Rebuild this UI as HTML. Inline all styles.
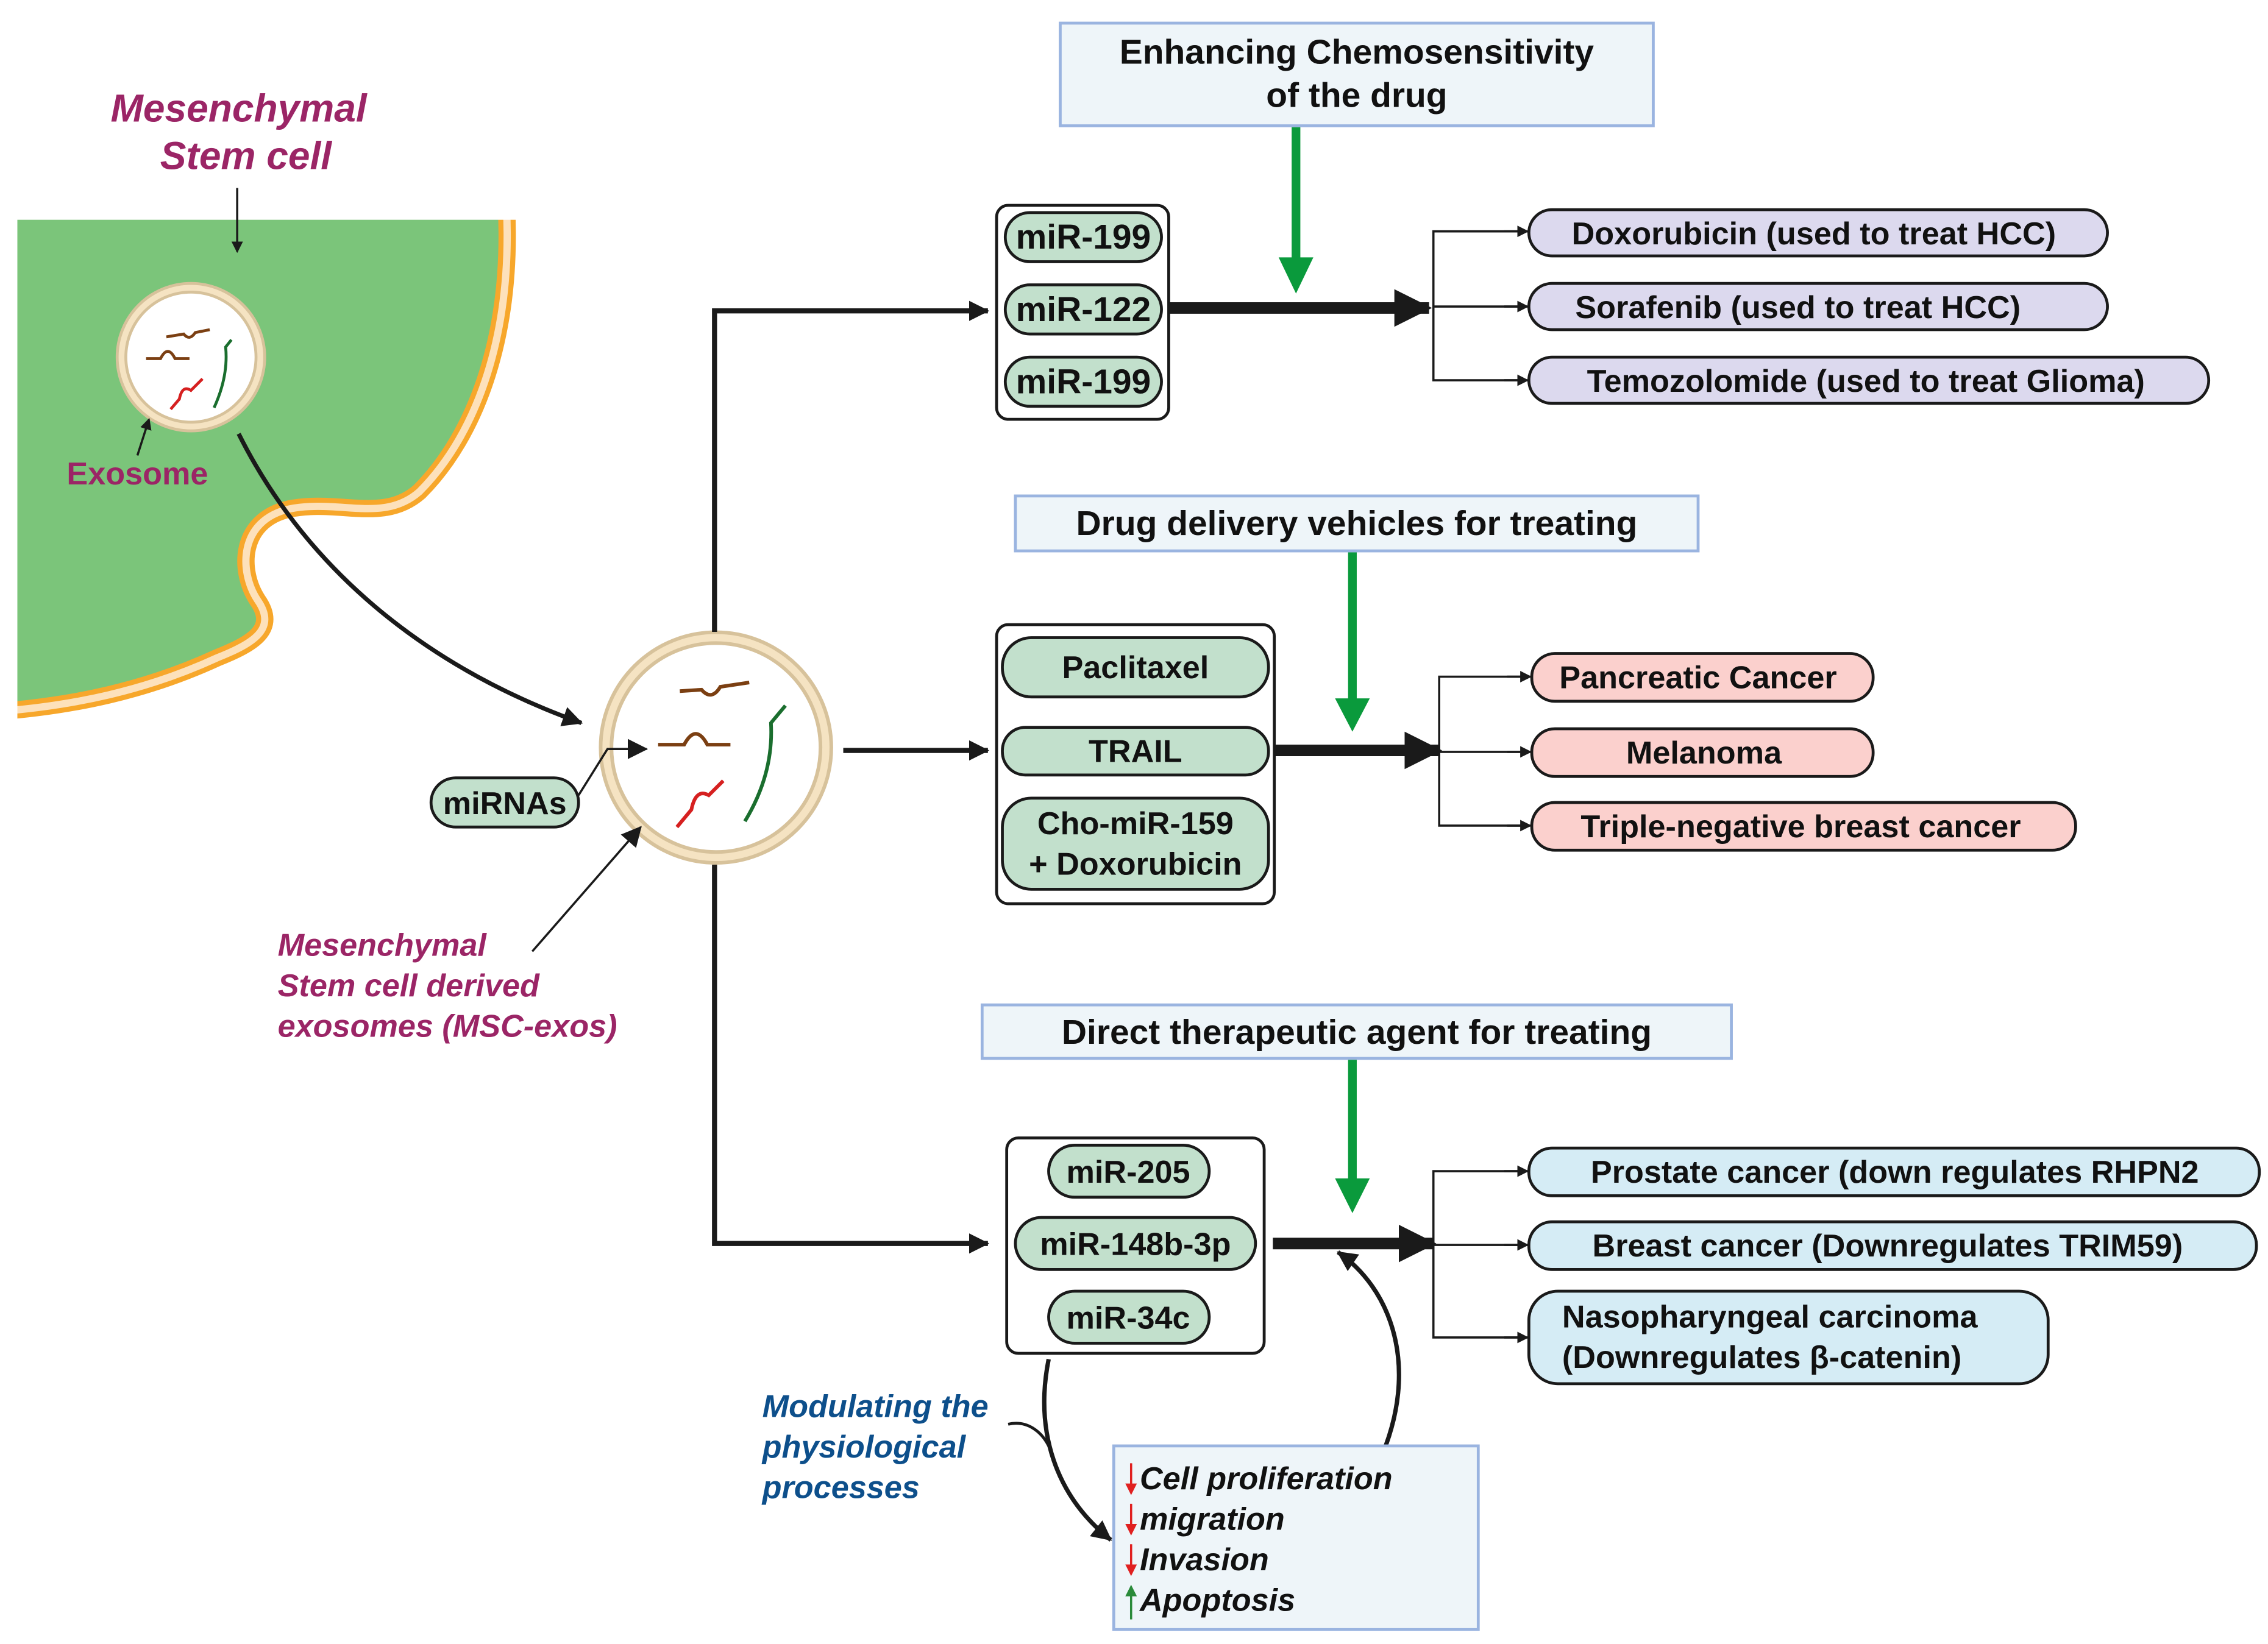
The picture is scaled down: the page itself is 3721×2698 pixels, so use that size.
<!DOCTYPE html>
<html><head><meta charset="utf-8"><style>
html,body{margin:0;padding:0;background:#fff;}
svg{display:block;}
text{font-family:"Liberation Sans",sans-serif;}
.b{font-weight:bold;font-size:22px;fill:#111;}
.h{font-weight:bold;font-size:24px;fill:#111;}
.pill{stroke:#1a1a1a;stroke-width:2;}
.ln{stroke:#1a1a1a;fill:none;}
</style></head><body>
<svg width="3721" height="2698" viewBox="0 0 1568 1137" preserveAspectRatio="none" xmlns="http://www.w3.org/2000/svg">
<defs>
<marker id="ah" markerWidth="8" markerHeight="8" refX="7" refY="4" orient="auto" markerUnits="userSpaceOnUse"><path d="M0,0L8,4L0,8z" fill="#1a1a1a"/></marker>
<marker id="ahb" markerWidth="14" markerHeight="14" refX="13" refY="7" orient="auto" markerUnits="userSpaceOnUse"><path d="M0,0L14,7L0,14z" fill="#1a1a1a"/></marker>
<marker id="ahg" markerWidth="26" markerHeight="26" refX="24" refY="13" orient="auto" markerUnits="userSpaceOnUse"><path d="M0,0L26,13L0,26z" fill="#1a1a1a"/></marker>
</defs>

<!-- cell -->
<path d="M0,140 L350,140 C355,230 330,300 290,340 C265,362 235,345 200,352 C165,360 165,395 178,415 C192,435 175,445 150,455 C100,478 50,488 0,492 Z" fill="#7bc57a" stroke="#f7a72b" stroke-width="12"/>
<path d="M350,140 C355,230 330,300 290,340 C265,362 235,345 200,352 C165,360 165,395 178,415 C192,435 175,445 150,455 C100,478 50,488 0,492" fill="none" stroke="#fde1bb" stroke-width="5"/>
<rect x="0" y="130" width="12" height="380" fill="#fff"/>
<rect x="0" y="120" width="370" height="32" fill="#fff"/>

<text x="165" y="84" text-anchor="middle" font-style="italic" font-weight="bold" font-size="27" fill="#9b2566">Mesenchymal</text>
<text x="170" y="117" text-anchor="middle" font-style="italic" font-weight="bold" font-size="27" fill="#9b2566">Stem cell</text>
<line x1="164" y1="130" x2="164" y2="174" class="ln" stroke-width="1.5" marker-end="url(#ah)"/>

<!-- small exosome -->
<circle cx="132" cy="247" r="48" fill="#fff" stroke="#d7c29b" stroke-width="8"/>
<circle cx="132" cy="247" r="48" fill="none" stroke="#f5e3c2" stroke-width="4"/>
<g stroke-width="2" fill="none">
<path d="M115,233 L127,231 Q131,236 135,230 L145,228" stroke="#7b3f12"/>
<path d="M101,248 L111,248 Q116,238 121,248 L131,248" stroke="#7b3f12"/>
<path d="M118,283 L124,276 Q126,266 132,270 L140,262" stroke="#d62020"/>
<path d="M148,282 Q158,260 156,240 L160,235" stroke="#1a6e2e"/>
</g>
<text x="95" y="335" text-anchor="middle" font-weight="bold" font-size="22" fill="#9b2566">Exosome</text>
<line x1="95" y1="315" x2="103" y2="290" class="ln" stroke-width="1.5" marker-end="url(#ah)"/>

<path d="M165,300 C210,390 290,460 402,500" class="ln" stroke-width="3" marker-end="url(#ahb)"/>

<!-- big exosome -->
<circle cx="495" cy="517" r="76" fill="#fff" stroke="#d7c29b" stroke-width="10"/>
<circle cx="495" cy="517" r="76" fill="none" stroke="#f5e3c2" stroke-width="5"/>
<g stroke-width="2.5" fill="none">
<path d="M470,478 L485,477 Q492,485 498,475 L518,472" stroke="#7b3f12"/>
<path d="M455,515 L473,515 Q481,500 489,515 L505,515" stroke="#7b3f12"/>
<path d="M468,572 L478,560 Q481,545 490,550 L500,540" stroke="#d62020"/>
<path d="M515,568 Q535,535 533,500 L543,488" stroke="#1a6e2e"/>
</g>
<rect x="298" y="538" width="102" height="34" rx="17" fill="#c2e0cc" class="pill"/>
<text x="349" y="563" text-anchor="middle" class="b">miRNAs</text>
<path d="M400,550 L420,518 L447,518" class="ln" stroke-width="1.5" marker-end="url(#ahb)"/>
<text x="192" y="661" font-style="italic" font-weight="bold" font-size="22" fill="#9b2566">Mesenchymal</text>
<text x="192" y="689" font-style="italic" font-weight="bold" font-size="22" fill="#9b2566">Stem cell derived</text>
<text x="192" y="717" font-style="italic" font-weight="bold" font-size="22" fill="#9b2566">exosomes (MSC-exos)</text>
<line x1="368" y1="658" x2="443" y2="572" class="ln" stroke-width="1.5" marker-end="url(#ahb)"/>

<!-- trunk -->
<path d="M494,437 L494,215 L683,215" class="ln" stroke-width="3.5" marker-end="url(#ahb)"/>
<path d="M494,598 L494,860 L683,860" class="ln" stroke-width="3.5" marker-end="url(#ahb)"/>
<line x1="583" y1="519" x2="683" y2="519" class="ln" stroke-width="3.5" marker-end="url(#ahb)"/>

<!-- section 1 -->
<rect x="733" y="16" width="410" height="71" fill="#eef5f9" stroke="#9ab4e0" stroke-width="2"/>
<text x="938" y="44" text-anchor="middle" class="h">Enhancing Chemosensitivity</text>
<text x="938" y="74" text-anchor="middle" class="h">of the drug</text>
<line x1="896" y1="88" x2="896" y2="180" stroke="#0a9a3c" stroke-width="6"/>
<path d="M884,178 L908,178 L896,203 Z" fill="#0a9a3c"/>
<rect x="689" y="142" width="119" height="148" rx="8" fill="#fff" class="pill"/>
<rect x="695" y="147" width="108" height="34" rx="17" fill="#c2e0cc" class="pill"/><text x="749" y="172" text-anchor="middle" class="h">miR-199</text>
<rect x="695" y="197" width="108" height="34" rx="17" fill="#c2e0cc" class="pill"/><text x="749" y="222" text-anchor="middle" class="h">miR-122</text>
<rect x="695" y="247" width="108" height="34" rx="17" fill="#c2e0cc" class="pill"/><text x="749" y="272" text-anchor="middle" class="h">miR-199</text>
<line x1="808" y1="213" x2="988" y2="213" class="ln" stroke-width="8" marker-end="url(#ahg)"/>
<path d="M1055,160 L991,160 L991,263 L1055,263 M991,212 L1055,212" class="ln" stroke-width="1.5"/>
<line x1="1040" y1="160" x2="1056" y2="160" class="ln" stroke-width="1.5" marker-end="url(#ah)"/>
<line x1="1040" y1="212" x2="1056" y2="212" class="ln" stroke-width="1.5" marker-end="url(#ah)"/>
<line x1="1040" y1="263" x2="1056" y2="263" class="ln" stroke-width="1.5" marker-end="url(#ah)"/>
<rect x="1057" y="145" width="400" height="32" rx="16" fill="#dcd9ee" class="pill"/><text x="1254" y="169" text-anchor="middle" class="b">Doxorubicin (used to treat HCC)</text>
<rect x="1057" y="196" width="400" height="32" rx="16" fill="#dcd9ee" class="pill"/><text x="1243" y="220" text-anchor="middle" class="b">Sorafenib (used to treat HCC)</text>
<rect x="1057" y="247" width="470" height="32" rx="16" fill="#dcd9ee" class="pill"/><text x="1290" y="271" text-anchor="middle" class="b">Temozolomide (used to treat Glioma)</text>

<!-- section 2 -->
<rect x="702" y="343" width="472" height="38" fill="#eef5f9" stroke="#9ab4e0" stroke-width="2"/>
<text x="938" y="370" text-anchor="middle" class="h">Drug delivery vehicles for treating</text>
<line x1="935" y1="382" x2="935" y2="485" stroke="#0a9a3c" stroke-width="6"/>
<path d="M923,483 L947,483 L935,506 Z" fill="#0a9a3c"/>
<rect x="689" y="432" width="192" height="193" rx="8" fill="#fff" class="pill"/>
<rect x="693" y="441" width="184" height="41" rx="20" fill="#c2e0cc" class="pill"/><text x="785" y="469" text-anchor="middle" class="b">Paclitaxel</text>
<rect x="693" y="503" width="184" height="33" rx="16" fill="#c2e0cc" class="pill"/><text x="785" y="527" text-anchor="middle" class="b">TRAIL</text>
<rect x="693" y="552" width="184" height="63" rx="20" fill="#c2e0cc" class="pill"/><text x="785" y="577" text-anchor="middle" class="b">Cho-miR-159</text><text x="785" y="605" text-anchor="middle" class="b">+ Doxorubicin</text>
<line x1="881" y1="519" x2="995" y2="519" class="ln" stroke-width="8" marker-end="url(#ahg)"/>
<path d="M1057,468 L995,468 L995,571 L1057,571 M995,520 L1057,520" class="ln" stroke-width="1.5"/>
<line x1="1042" y1="468" x2="1058" y2="468" class="ln" stroke-width="1.5" marker-end="url(#ah)"/>
<line x1="1042" y1="520" x2="1058" y2="520" class="ln" stroke-width="1.5" marker-end="url(#ah)"/>
<line x1="1042" y1="571" x2="1058" y2="571" class="ln" stroke-width="1.5" marker-end="url(#ah)"/>
<rect x="1059" y="452" width="236" height="33" rx="16" fill="#fbd0cd" class="pill"/><text x="1174" y="476" text-anchor="middle" class="b">Pancreatic Cancer</text>
<rect x="1059" y="504" width="236" height="33" rx="16" fill="#fbd0cd" class="pill"/><text x="1178" y="528" text-anchor="middle" class="b">Melanoma</text>
<rect x="1059" y="555" width="376" height="33" rx="16" fill="#fbd0cd" class="pill"/><text x="1245" y="579" text-anchor="middle" class="b">Triple-negative breast cancer</text>

<!-- section 3 -->
<rect x="679" y="695" width="518" height="37" fill="#eef5f9" stroke="#9ab4e0" stroke-width="2"/>
<text x="938" y="722" text-anchor="middle" class="h">Direct therapeutic agent for treating</text>
<line x1="935" y1="733" x2="935" y2="818" stroke="#0a9a3c" stroke-width="6"/>
<path d="M923,815 L947,815 L935,839 Z" fill="#0a9a3c"/>
<rect x="696" y="787" width="178" height="149" rx="8" fill="#fff" class="pill"/>
<rect x="725" y="792" width="111" height="36" rx="18" fill="#c2e0cc" class="pill"/><text x="780" y="818" text-anchor="middle" class="b">miR-205</text>
<rect x="702" y="842" width="166" height="36" rx="18" fill="#c2e0cc" class="pill"/><text x="785" y="868" text-anchor="middle" class="b">miR-148b-3p</text>
<rect x="725" y="893" width="111" height="36" rx="18" fill="#c2e0cc" class="pill"/><text x="780" y="919" text-anchor="middle" class="b">miR-34c</text>
<line x1="880" y1="860" x2="991" y2="860" class="ln" stroke-width="8" marker-end="url(#ahg)"/>
<path d="M1055,810 L991,810 L991,925 L1055,925 M991,861 L1055,861" class="ln" stroke-width="1.5"/>
<line x1="1040" y1="810" x2="1056" y2="810" class="ln" stroke-width="1.5" marker-end="url(#ah)"/>
<line x1="1040" y1="861" x2="1056" y2="861" class="ln" stroke-width="1.5" marker-end="url(#ah)"/>
<line x1="1040" y1="925" x2="1056" y2="925" class="ln" stroke-width="1.5" marker-end="url(#ah)"/>
<rect x="1057" y="794" width="505" height="33" rx="16" fill="#d5ecf5" class="pill"/><text x="1310" y="818" text-anchor="middle" class="b">Prostate cancer (down regulates RHPN2</text>
<rect x="1057" y="845" width="503" height="33" rx="16" fill="#d5ecf5" class="pill"/><text x="1305" y="869" text-anchor="middle" class="b">Breast cancer (Downregulates TRIM59)</text>
<rect x="1057" y="893" width="359" height="64" rx="20" fill="#d5ecf5" class="pill"/><text x="1080" y="918" class="b">Nasopharyngeal carcinoma</text><text x="1080" y="946" class="b">(Downregulates β-catenin)</text>

<path d="M958,1000 C980,940 960,890 925,866" class="ln" stroke-width="3" marker-end="url(#ahb)"/>
<path d="M725,940 C715,990 730,1035 768,1065" class="ln" stroke-width="3" marker-end="url(#ahb)"/>
<path d="M697,985 C710,982 720,990 725,1000" class="ln" stroke-width="2"/>
<text x="527" y="980" font-style="italic" font-weight="bold" font-size="22" fill="#0d4f8b">Modulating the</text>
<text x="527" y="1008" font-style="italic" font-weight="bold" font-size="22" fill="#0d4f8b">physiological</text>
<text x="527" y="1036" font-style="italic" font-weight="bold" font-size="22" fill="#0d4f8b">processes</text>
<rect x="770" y="1000" width="252" height="127" fill="#eef5f9" stroke="#9ab4e0" stroke-width="2"/>
<g font-style="italic" font-weight="bold" font-size="22" fill="#111">
<text x="788" y="1030">Cell proliferation</text>
<text x="788" y="1058">migration</text>
<text x="788" y="1086">Invasion</text>
<text x="788" y="1114">Apoptosis</text>
</g>
<g stroke-width="1.5">
<line x1="782" y1="1012" x2="782" y2="1030" stroke="#e02020"/><path d="M778,1026 L786,1026 L782,1034Z" fill="#e02020"/>
<line x1="782" y1="1040" x2="782" y2="1058" stroke="#e02020"/><path d="M778,1054 L786,1054 L782,1062Z" fill="#e02020"/>
<line x1="782" y1="1068" x2="782" y2="1086" stroke="#e02020"/><path d="M778,1082 L786,1082 L782,1090Z" fill="#e02020"/>
<line x1="782" y1="1100" x2="782" y2="1120" stroke="#2a8a3a"/><path d="M778,1104 L786,1104 L782,1096Z" fill="#2a8a3a"/>
</g>
</svg>
</body></html>
